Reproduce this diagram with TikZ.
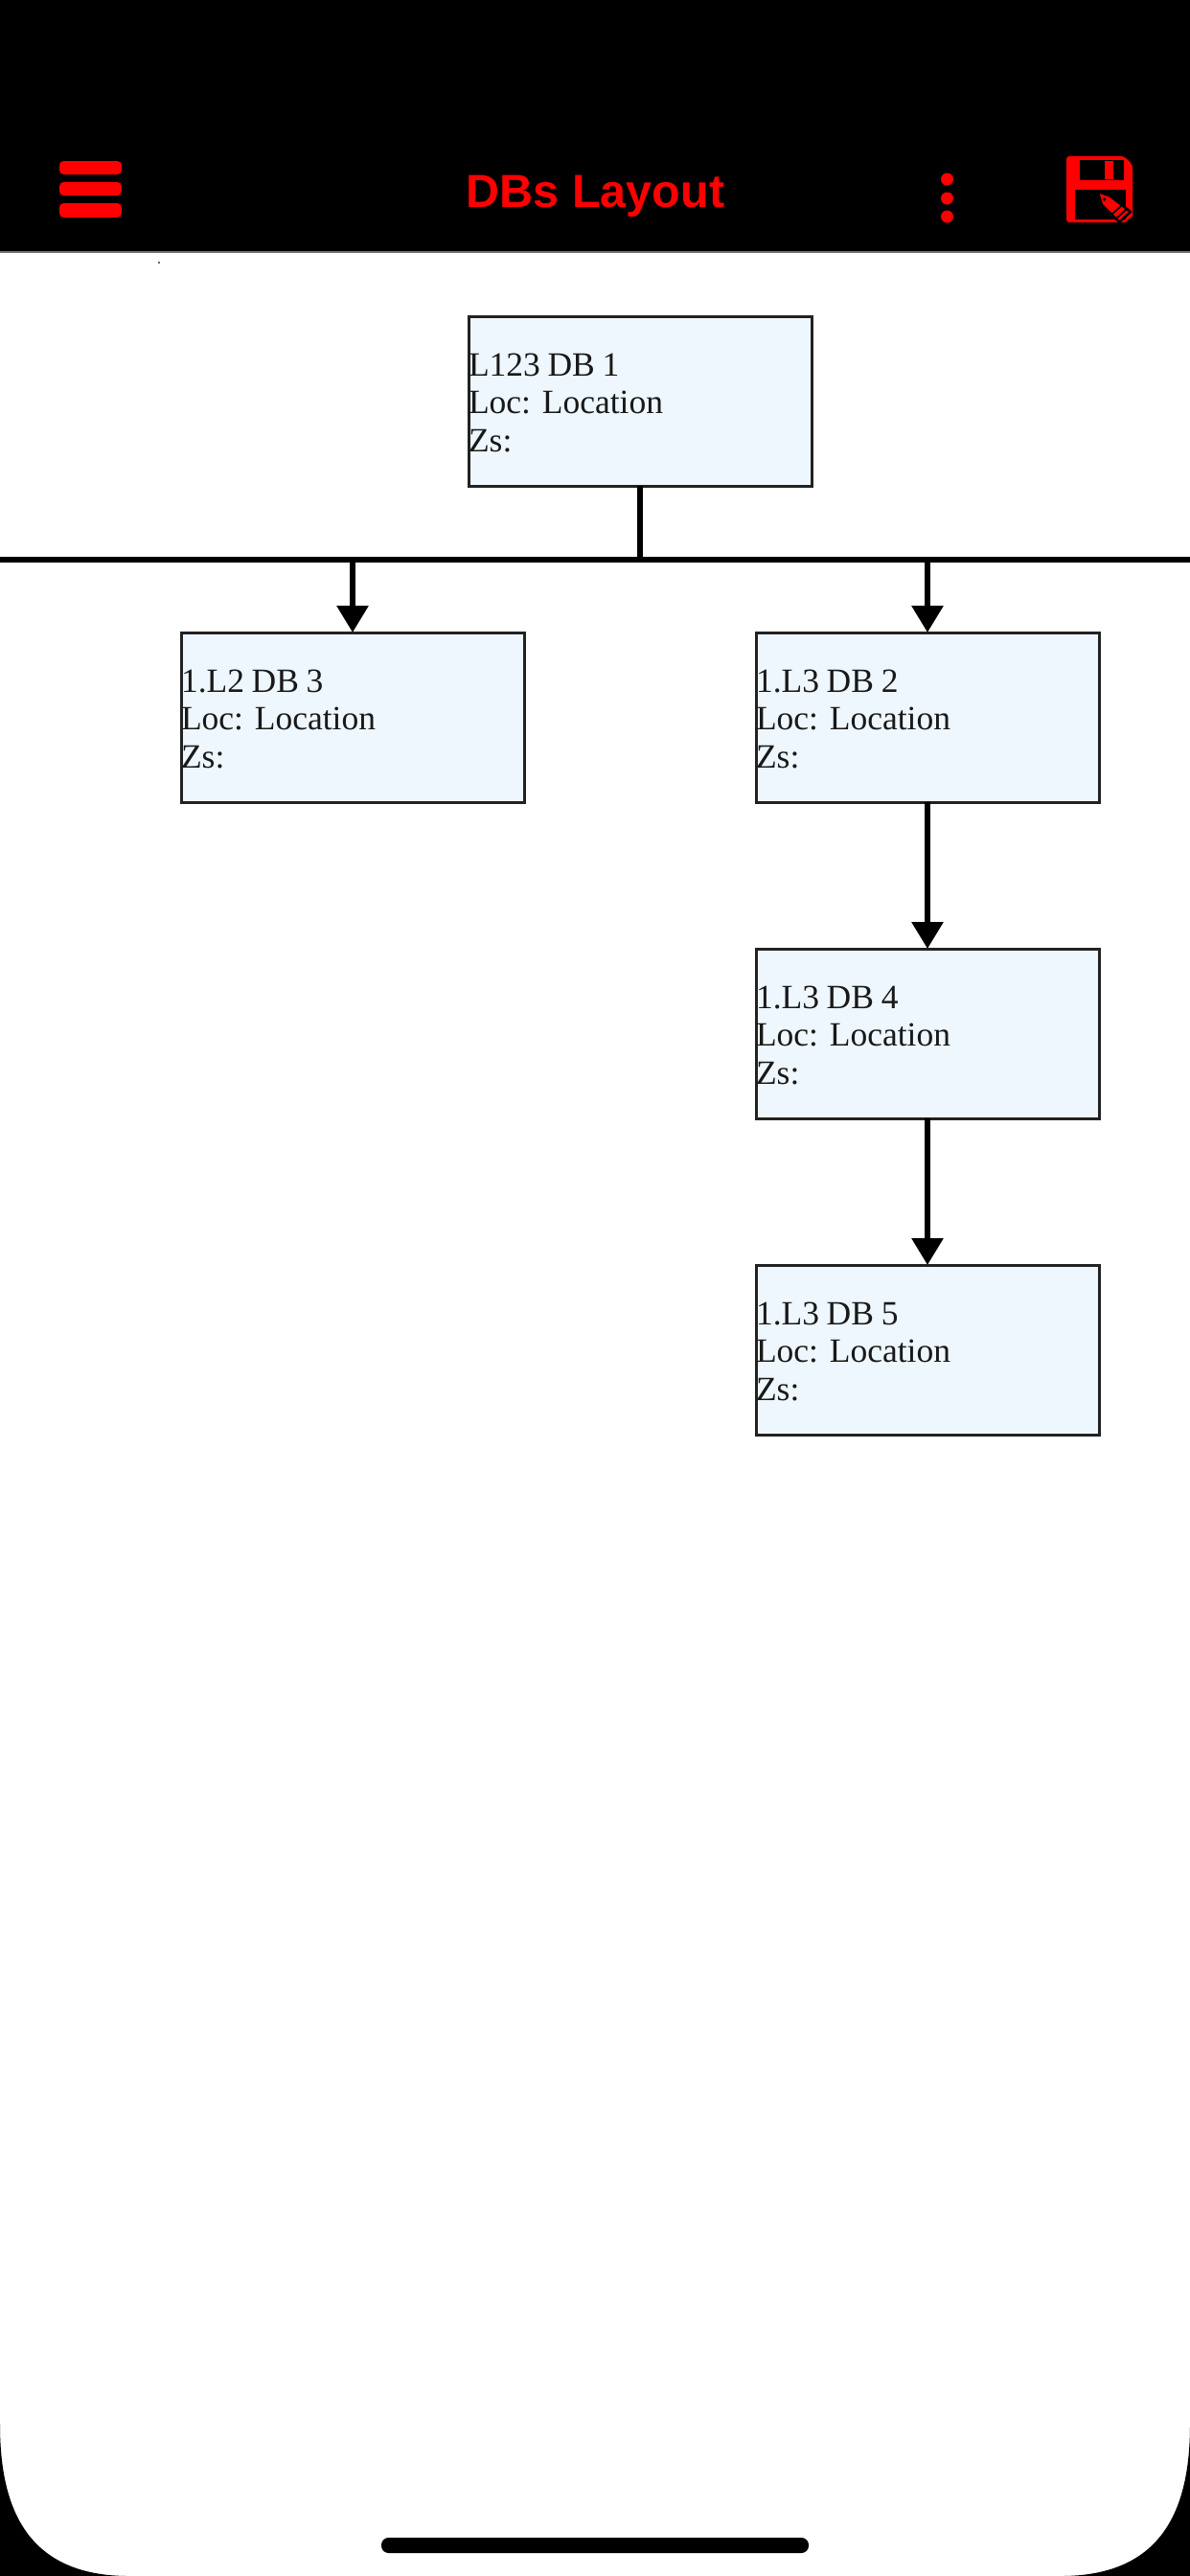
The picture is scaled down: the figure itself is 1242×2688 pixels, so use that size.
\documentclass[tikz,border=0pt]{standalone}
\usepackage{fontspec}
\setmainfont{Liberation Serif}
\newfontfamily\titlefont{Liberation Sans}
\usetikzlibrary{arrows.meta}
\definecolor{boxfill}{HTML}{EFF7FE}
\definecolor{boxline}{HTML}{222222}
\definecolor{appred}{HTML}{FF0000}
\newcommand\firstline[1]{\rule{0pt}{27pt}{\spaceskip=7.7pt #1}}
\tikzset{
  dbbox/.style={draw=boxline,fill=boxfill,line width=3pt,rectangle,inner sep=0pt,outer sep=0pt,
    minimum width=358pt,minimum height=177pt,text width=358pt,align=left,text=black!90,
    font=\fontsize{35.5}{39.5}\selectfont\frenchspacing},
  wire/.style={draw=black,line width=6pt},
  arrowwire/.style={wire,-{Triangle[length=28pt,width=32pt]}},
  hamburger/.style={fill=appred,rounded corners=4.5pt},
  menudot/.style={fill=appred}
}
\begin{document}
\begin{tikzpicture}[x=1pt,y=-1pt]
\useasboundingbox (0,0) rectangle (1242,2688);
% header
\fill[black] (0,0) rectangle (1242,262);
\fill[black!55] (0,262) rectangle (1242,264);
\fill[black!60] (164.5,273) rectangle (166.5,275);
% hamburger
\fill[hamburger] (62,168) rectangle (127,182);
\fill[hamburger] (62,190) rectangle (127,204);
\fill[hamburger] (62,212) rectangle (127,227);
\node[anchor=base,inner sep=0pt,text=appred,font={\titlefont\bfseries\fontsize{48.5}{50}\selectfont}] (title) at (621.5,216) {DBs Layout};
% dots
\fill[menudot] (988.5,187) circle (6.5);
\fill[menudot] (988.5,207) circle (6.5);
\fill[menudot] (988.5,226) circle (6.5);
% floppy
\fill[appred,rounded corners=3pt] (1113,163) -- (1173,163) -- (1182,172) -- (1182,232) -- (1113,232) -- cycle;
\fill[black] (1127,167) rectangle (1173,188);
\fill[appred] (1153,168) rectangle (1162,187);
\fill[black] (1122,198) rectangle (1175,229);
\fill[black] (1172,234) -- (1184,224) -- (1184,234) -- cycle;
\draw[black,line width=2.5pt,fill=appred,line join=round] (1145.7,200) -- (1158.3,204.3) -- (1180,221) -- (1168.3,231.7) -- (1150,214) -- cycle;
\fill[black] (1152.5,208) circle (1.8);
\draw[black,line width=1.8pt] (1170.5,214.5) -- (1159.5,224.5) (1175.5,218.5) -- (1165,228);
% bottom corners and home bar
\fill[black] (0,2530) .. controls (0,2620) and (30,2688) .. (135,2688) -- (0,2688) -- cycle;
\fill[black] (1242,2530) .. controls (1242,2620) and (1212,2688) .. (1107,2688) -- (1242,2688) -- cycle;
\fill[black,rounded corners=7.5pt] (398,2648) rectangle (844,2664);
% boxes
\node[dbbox] (db1) at (668,418.5) {\firstline{L123 DB 1}\\Loc: Location\\Zs:};
\node[dbbox] (db3) at (368,748.5) {\firstline{1.L2 DB 3}\\Loc: Location\\Zs:};
\node[dbbox] (db2) at (968,748.5) {\firstline{1.L3 DB 2}\\Loc: Location\\Zs:};
\node[dbbox] (db4) at (968,1078.5) {\firstline{1.L3 DB 4}\\Loc: Location\\Zs:};
\node[dbbox] (db5) at (968,1408.5) {\firstline{1.L3 DB 5}\\Loc: Location\\Zs:};
% connectors
\coordinate (busl) at (0,583.5);
\coordinate (busr) at (1242,583.5);
\coordinate (j1) at (668,583.5);
\coordinate (j3) at (368,583.5);
\coordinate (j2) at (968,583.5);
\draw[wire] (busl) -- (busr);
\draw[wire] (db1.south) -- (j1);
\draw[arrowwire] (j3) -- (db3.north);
\draw[arrowwire] (j2) -- (db2.north);
\draw[arrowwire] (db2.south) -- (db4.north);
\draw[arrowwire] (db4.south) -- (db5.north);
\end{tikzpicture}
\end{document}
